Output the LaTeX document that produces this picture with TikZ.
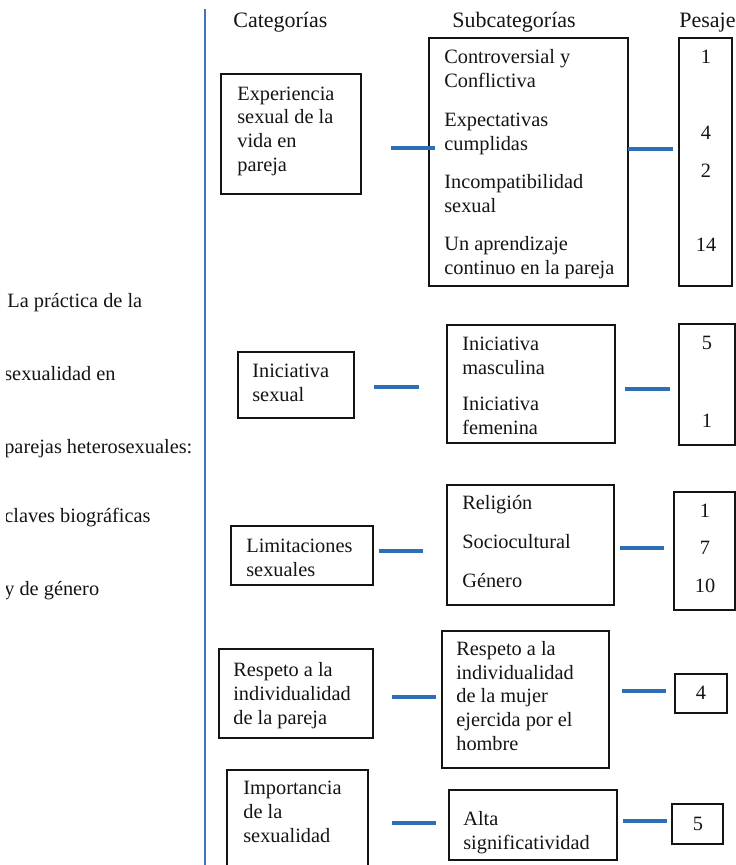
\documentclass[tikz,border=0pt]{standalone}
\usepackage{fontspec}
\setmainfont{Liberation Serif}
\usetikzlibrary{fit}
\definecolor{vline}{RGB}{68,114,196}
\definecolor{conn}{RGB}{46,110,180}
\definecolor{ink}{RGB}{20,20,20}
\tikzset{
  box/.style={draw=ink, line width=0.8pt, inner sep=0pt},
  txt/.style={anchor=base west, inner sep=0pt, align=left, text=ink, font=\fontsize{12.2}{14.2}\selectfont},
  head/.style={anchor=base west, inner sep=0pt, text=ink, font=\fontsize{13.2}{15}\selectfont},
  num/.style={anchor=base, inner sep=0pt, text=ink, font=\fontsize{12.2}{14.2}\selectfont},
  link/.style={draw=conn, line width=2.4pt},
  axisline/.style={draw=vline, line width=1.1pt}
}
\begin{document}
\begin{tikzpicture}[x=0.6pt,y=-0.6pt]
\clip (0,0) rectangle (736,865);
\useasboundingbox (0,0) rectangle (736,865);

% left title (cut at its left edge, as in the original)
\begin{scope}
\clip (6.5,250) rectangle (200,640);
\node[txt] (t1) at (7,307) {La práctica de la};
\node[txt] (t2) at (4,380) {sexualidad en};
\node[txt] (t3) at (4,453) {parejas heterosexuales:};
\node[txt] (t4) at (4,522) {claves biográficas};
\node[txt] (t5) at (4,595) {y de género};
\end{scope}

% vertical line
\coordinate (vtop) at (205,9);
\coordinate (vbot) at (205,866);
\draw[axisline] (vtop) -- (vbot);

% headers
\node[head] (h1) at (233,27) {Categorías};
\node[head] (h2) at (452,27) {Subcategorías};
\node[head] (h3) at (679,27) {Pesaje};

% (multi-line texts are placed by the baseline of their last line)
% row 1
\node[box, fit={(221,74) (361,194)}] (c1) {};
\node[txt] (c1t) at (237,171) {Experiencia\\sexual de la\\vida en\\pareja};
\node[box, fit={(429,38) (628,286)}] (s1) {};
\node[txt] (s1a) at (444,87) {Controversial y\\Conflictiva};
\node[txt] (s1b) at (444,150) {Expectativas\\cumplidas};
\node[txt] (s1c) at (444,212) {Incompatibilidad\\sexual};
\node[txt] (s1d) at (444,274) {Un aprendizaje\\continuo en la pareja};
\node[box, fit={(679,38) (732,286)}] (p1) {};
\node[num] (p1a) at (706,63) {1};
\node[num] (p1b) at (706,139) {4};
\node[num] (p1c) at (706,177) {2};
\node[num] (p1d) at (706,251) {14};
\coordinate (l1a) at (391,148); \coordinate (l1b) at (435,148);
\draw[link] (l1a) -- (l1b);
\coordinate (m1a) at (628,149); \coordinate (m1b) at (673,149);
\draw[link] (m1a) -- (m1b);

% row 2
\node[box, fit={(238,352) (354,418)}] (c2) {};
\node[txt] (c2t) at (252,401) {Iniciativa\\sexual};
\node[box, fit={(447,325) (615,443)}] (s2) {};
\node[txt] (s2a) at (462,374) {Iniciativa\\masculina};
\node[txt] (s2b) at (462,434) {Iniciativa\\femenina};
\node[box, fit={(679,324) (735,445)}] (p2) {};
\node[num] (p2a) at (707,349) {5};
\node[num] (p2b) at (707,427) {1};
\coordinate (l2a) at (374,387); \coordinate (l2b) at (419,387);
\draw[link] (l2a) -- (l2b);
\coordinate (m2a) at (625,389); \coordinate (m2b) at (670,389);
\draw[link] (m2a) -- (m2b);

% row 3
\node[box, fit={(231,526) (373,585)}] (c3) {};
\node[txt] (c3t) at (246,576) {Limitaciones\\sexuales};
\node[box, fit={(447,485) (614,605)}] (s3) {};
\node[txt] (s3a) at (462,509) {Religión};
\node[txt] (s3b) at (462,548) {Sociocultural};
\node[txt] (s3c) at (462,587) {Género};
\node[box, fit={(674,492) (735,610)}] (p3) {};
\node[num] (p3a) at (705,517) {1};
\node[num] (p3b) at (705,554) {7};
\node[num] (p3c) at (705,592) {10};
\coordinate (l3a) at (379,551); \coordinate (l3b) at (423,551);
\draw[link] (l3a) -- (l3b);
\coordinate (m3a) at (620,548); \coordinate (m3b) at (664,548);
\draw[link] (m3a) -- (m3b);

% row 4
\node[box, fit={(219,649) (373,738)}] (c4) {};
\node[txt] (c4t) at (233,724) {Respeto a la\\individualidad\\de la pareja};
\node[box, fit={(442,631) (609,768)}] (s4) {};
\node[txt] (s4t) at (456,750) {Respeto a la\\individualidad\\de la mujer\\ejercida por el\\hombre};
\node[box, fit={(675,674) (727,713)}] (p4) {};
\node[num] (p4a) at (701,699) {4};
\coordinate (l4a) at (392,697); \coordinate (l4b) at (436,697);
\draw[link] (l4a) -- (l4b);
\coordinate (m4a) at (622,691); \coordinate (m4b) at (666,691);
\draw[link] (m4a) -- (m4b);

% row 5
\node[box, fit={(227,770) (368,875)}] (c5) {};
\node[txt] (c5t) at (243,842) {Importancia\\de la\\sexualidad};
\node[box, fit={(449,790) (617,860)}] (s5) {};
\node[txt] (s5t) at (463,849) {Alta\\significatividad};
\node[box, fit={(672,804) (723,844)}] (p5) {};
\node[num] (p5a) at (698,830) {5};
\coordinate (l5a) at (392,823); \coordinate (l5b) at (436,823);
\draw[link] (l5a) -- (l5b);
\coordinate (m5a) at (623,821); \coordinate (m5b) at (667,821);
\draw[link] (m5a) -- (m5b);
\end{tikzpicture}
\end{document}
